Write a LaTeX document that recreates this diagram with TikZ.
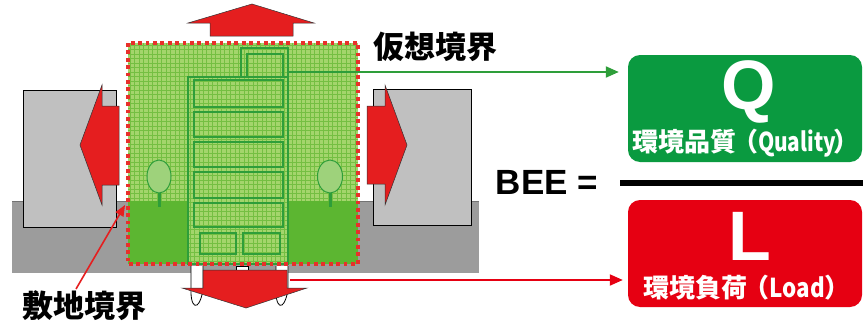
\documentclass[tikz,border=0pt]{standalone}
\usepackage{fontspec}
\setmainfont{Liberation Sans}
\newfontfamily\cjk{Noto Sans CJK JP}
\usetikzlibrary{arrows.meta}
\definecolor{arrred}{HTML}{E51E1F}
\definecolor{dotred}{HTML}{E8302A}
\definecolor{gndgray}{HTML}{9C9C9C}
\definecolor{bldgray}{HTML}{C0C0C0}
\definecolor{lightgrn}{HTML}{A3D56C}
\definecolor{gridgrn}{HTML}{74BF42}
\definecolor{solidgrn}{HTML}{5CB631}
\definecolor{linegrn}{HTML}{2E9E3A}
\definecolor{qgreen}{HTML}{0A9A40}
\definecolor{lred}{HTML}{E60012}
\tikzset{
  neighbour/.style={fill=bldgray,draw=black,line width=0.9pt},
  bigarrow/.style={fill=arrred,draw=black!80,line width=0.5pt},
  floorbox/.style={draw=linegrn,line width=1.1pt},
  treeshape/.style={draw=linegrn,line width=1pt,fill=gridgrn!70},
  leg/.style={fill=white,draw=black,line width=0.8pt},
  boundary/.style={draw=dotred,line width=4pt,dash pattern=on 3.8pt off 3.6pt},
  cjklabel/.style={font=\cjk\bfseries\fontsize{31}{31}\selectfont,inner sep=0pt},
  boxlabel/.style={font=\cjk\bfseries\fontsize{26}{26}\selectfont,text=white,inner sep=0pt},
  bigletter/.style={font=\bfseries\fontsize{70}{70}\selectfont,text=white,inner sep=0pt},
  ratiobox/.style={rounded corners=12pt,minimum width=234pt,inner sep=0pt}
}
\begin{document}
\begin{tikzpicture}[x=1pt,y=-1pt]
\useasboundingbox (0,0) rectangle (863,324);

% ground strip
\fill[gndgray] (12,201) rectangle (479,273);
\draw[black!55,line width=0.6pt] (12,201) -- (479,201);

% neighbouring buildings
\draw[neighbour] (23,90) rectangle (116,227);
\draw[neighbour] (373,89) rectangle (471,225);

% heat pushed out sideways
\draw[bigarrow] (119,106) -- (102,106) -- (102,85) -- (80,145) -- (102,205) -- (102,185) -- (119,185) -- cycle;
\draw[bigarrow] (367,106) -- (385,106) -- (385,85) -- (407,145) -- (385,205) -- (385,184) -- (367,184) -- cycle;

% heat pushed upwards
\draw[bigarrow] (210,36) -- (210,23) -- (188,23) -- (252,4) -- (314,23) -- (293,23) -- (293,36) -- cycle;

% site: hatched upper part, solid lower part
\fill[lightgrn] (128,43) rectangle (358,201);
\foreach \gx in {130,134.5,...,358} \draw[gridgrn,line width=0.6pt] (\gx,43) -- (\gx,201);
\foreach \gy in {45,49.5,...,201} \draw[gridgrn,line width=0.6pt] (128,\gy) -- (358,\gy);
\fill[solidgrn] (128,201) rectangle (358,264);

% building with hatching
\fill[lightgrn] (188,77) rectangle (288,264);
\fill[lightgrn] (241,48) rectangle (288,77);
\begin{scope}
  \clip (188,77) rectangle (288,264) (241,48) rectangle (288,77);
  \foreach \gx in {190,194.5,...,290} \draw[gridgrn,line width=0.6pt] (\gx,45) -- (\gx,264);
  \foreach \gy in {49.5,54,...,264} \draw[gridgrn,line width=0.6pt] (186,\gy) -- (290,\gy);
\end{scope}
\node[draw=linegrn,line width=1.1pt,minimum width=100pt,minimum height=187pt,inner sep=0pt] (bldg) at (238,170.5) {};
\draw[floorbox] (241,77) -- (241,48) -- (288,48) -- (288,77);
\draw[floorbox] (247,77) -- (247,54) -- (283,54) -- (283,77);
\draw[floorbox] (194,80) rectangle (283,107);
\draw[floorbox] (194,112) rectangle (283,137);
\draw[floorbox] (194,142) rectangle (283,167);
\draw[floorbox] (194,172) rectangle (283,198);
\draw[floorbox] (194,203) rectangle (283,227);
\draw[floorbox] (200,233) rectangle (236,254);
\draw[floorbox] (243,233) rectangle (280,254);

% trees
\fill[linegrn] (157.5,192) rectangle (160.5,207);
\draw[treeshape] (159,176.5) ellipse [x radius=12, y radius=16.5];
\fill[linegrn] (328.5,192) rectangle (331.5,207);
\draw[treeshape] (330,176.5) ellipse [x radius=12.5, y radius=16.5];

% virtual boundary (dotted)
\coordinate (sitenw) at (128,43);
\coordinate (sitese) at (358,264);
\draw[boundary] (sitenw) rectangle (sitese);

% building feet below the boundary
\draw[leg] (191,266) -- (191,292) .. controls (191,302) and (194,307) .. (197,305) .. controls (200,303) and (202,296) .. (203,290) -- (203,266);
\draw[leg] (276,266) -- (276,292) .. controls (276,302) and (279,307) .. (282,305) .. controls (285,303) and (287,296) .. (288,290) -- (288,266);
\draw[leg] (236,266) rectangle (248,271);

% heat pushed downwards
\draw[bigarrow] (203,270) -- (287,270) -- (287,288) -- (307,288) -- (246,308) -- (182,288) -- (203,288) -- cycle;

% labels
\node[cjklabel] (virt) at (435,47) {仮想境界};
\node[cjklabel] (site) at (85,306) {敷地境界};
\coordinate (sitefrom) at (76,289);
\draw[arrred,line width=1.6pt,-{Triangle[length=11pt,width=9pt]}] (sitefrom) -- (125,205);

% ratio boxes
\node[ratiobox,fill=qgreen,minimum height=107pt] (qbox) at (745,108.5) {};
\node[bigletter] (qlet) at (749,92) {Q};
\node[boxlabel] (qtxt) at (746,143) {環境品質\hspace{-4pt}（\scalebox{0.8}[1]{Quality}\hspace{-2pt}）};
\node[ratiobox,fill=lred,minimum height=107pt] (lbox) at (745,253.5) {};
\node[bigletter] (llet) at (750,236) {L};
\node[boxlabel] (ltxt) at (747,288) {環境負荷\hspace{-4pt}（\scalebox{0.86}[1]{Load}\hspace{-1pt}）};

% connectors from the building to the ratio boxes
\coordinate (qfrom) at (288,72);
\draw[linegrn,line width=2pt,-{Triangle[length=13pt,width=11pt]},shorten >=9pt] (qfrom) -- (qfrom -| qbox.west);
\coordinate (lfrom) at (290,280);
\draw[lred,line width=2pt,-{Triangle[length=13pt,width=11pt]},shorten >=5pt] (lfrom) -- (lfrom -| lbox.west);

% BEE ratio
\node[font=\bfseries\fontsize{35}{35}\selectfont,inner sep=0pt] (bee) at (547,182) {BEE =};
\coordinate (barl) at (620,183);
\coordinate (barr) at (863,183);
\draw[black,line width=6pt] (barl) -- (barr);
\end{tikzpicture}
\end{document}
